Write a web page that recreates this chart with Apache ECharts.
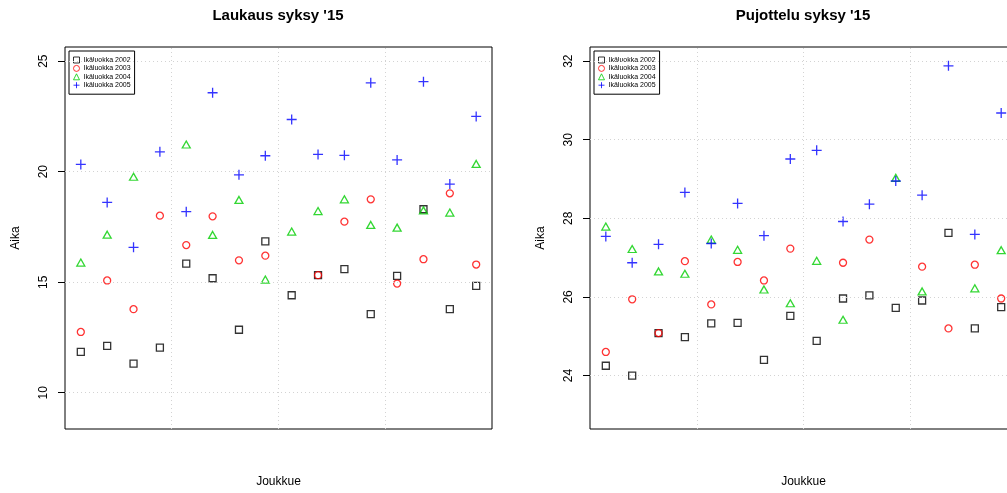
<!DOCTYPE html>
<html>
<head>
<meta charset="utf-8">
<script src="https://cdn.jsdelivr.net/npm/echarts@6/dist/echarts.min.js"></script>
<style>
  html, body { margin: 0; padding: 0; background: #fff; }
  #chart { width: 1007px; height: 493px; }
</style>
</head>
<body>
<div id="chart"></div>
<script>
// joukkueet 1..16 (x-akseli ilman nimiä)
const joukkue = [1, 2, 3, 4, 5, 6, 7, 8, 9, 10, 11, 12, 13, 14, 15, 16];
const ikaluokat = ['Ikäluokka 2002', 'Ikäluokka 2003', 'Ikäluokka 2004', 'Ikäluokka 2005'];

// Laukaus syksy '15
const laukaus2002 = [11.85, 12.12, 11.32, 12.04, 15.84, 15.18, 12.85, 16.85, 14.41, 15.32, 15.59, 13.56, 15.29, 18.30, 13.78, 14.83];
const laukaus2003 = [12.75, 15.08, 13.78, 18.01, 16.68, 17.98, 15.99, 16.20, null, 15.32, 17.74, 18.75, 14.94, 16.04, 19.02, 15.80];
const laukaus2004 = [15.89, 17.15, 19.77, null, 21.23, 17.14, 18.72, 15.12, 17.29, 18.22, 18.75, 17.59, 17.47, 18.25, 18.15, 20.35];
const laukaus2005 = [20.33, 18.61, 16.58, 20.90, 18.19, 23.57, 19.86, 20.72, 22.36, 20.78, 20.74, 24.02, 20.53, 24.07, 19.44, 22.50];
const laukausTicks = [10, 15, 20, 25];
const laukausYlim = [9, 25];

// Pujottelu syksy '15
const pujottelu2002 = [24.25, 24.00, 25.08, 24.98, 25.33, 25.34, 24.40, 25.52, 24.88, 25.96, 26.04, 25.72, 25.91, 27.63, 25.20, 25.74];
const pujottelu2003 = [24.60, 25.94, 25.08, 26.91, 25.81, 26.89, 26.42, 27.23, null, 26.87, 27.46, null, 26.77, 25.20, 26.82, 25.96];
const pujottelu2004 = [27.79, 27.22, 26.65, 26.59, 27.46, 27.20, 26.19, 25.84, 26.92, 25.42, null, 29.03, 26.14, null, 26.22, 27.19];
const pujottelu2005 = [27.54, 26.87, 27.34, 28.66, 27.36, 28.38, 27.56, 29.51, 29.73, 27.92, 28.36, 28.95, 28.59, 31.88, 27.59, 30.68];
const pujotteluTicks = [24, 26, 28, 30, 32];
const pujotteluYlim = [23, 32];

const colors = ['#000000', '#ff0000', '#00cd00', '#0000ff'];
const plus = 'path://M0,5L10,5M5,0L5,10';
const symbols = ['rect', 'circle', 'triangle', plus];
const sizes = [7, 7, [8, 7], 10];
const font = 'Liberation Sans, Arial, sans-serif';

// R-tyylinen 4 % laajennus
function ext(lim) {
  const d = (lim[1] - lim[0]) * 0.04;
  return [lim[0] - d, lim[1] + d];
}
const xlim = ext([1, 16]);
const xGrid = [1, 2, 3].map(k => xlim[0] + k * (xlim[1] - xlim[0]) / 4);

function pairs(vals) {
  const out = [];
  vals.forEach((v, i) => { if (v != null) out.push([joukkue[i], v]); });
  return out;
}

function makeSeries(idx, groups, ticks) {
  return groups.map((vals, s) => {
    const ser = {
      name: ikaluokat[s],
      type: 'scatter',
      xAxisIndex: idx,
      yAxisIndex: idx,
      symbol: symbols[s],
      symbolSize: sizes[s],
      itemStyle: { color: 'rgba(0,0,0,0)', borderColor: colors[s], borderWidth: 1.3 },
      emphasis: { disabled: true },
      data: pairs(vals)
    };
    if (s === 0) {
      ser.markLine = {
        silent: true,
        symbol: ['none', 'none'],
        label: { show: false },
        lineStyle: { color: '#d3d3d3', type: [1, 3], width: 1 },
        data: ticks.map(v => ({ yAxis: v })).concat(xGrid.map(v => ({ xAxis: v })))
      };
    }
    return ser;
  });
}

function legendFor(left) {
  return {
    orient: 'vertical',
    left: left,
    top: 51,
    padding: [5, 4, 5, 4],
    itemGap: 0.4,
    itemWidth: 6,
    itemHeight: 6,
    borderColor: '#000',
    borderWidth: 1,
    selectedMode: false,
    textStyle: { fontFamily: font, fontSize: 7, color: '#000', lineHeight: 8, padding: [0, 0, 0, -1] },
    data: ikaluokat.map((n, s) => ({
      name: n,
      icon: symbols[s],
      itemStyle: { color: 'rgba(0,0,0,0)', borderColor: colors[s], borderWidth: 1 }
    }))
  };
}

function xAxisFor(idx) {
  return {
    gridIndex: idx,
    type: 'value',
    min: xlim[0],
    max: xlim[1],
    axisLine: { show: false },
    axisTick: { show: false },
    axisLabel: { show: false },
    splitLine: { show: false },
    name: 'Joukkue',
    nameLocation: 'middle',
    nameGap: 47,
    nameTextStyle: { fontFamily: font, fontSize: 12, color: '#000' }
  };
}

function yAxisFor(idx, lim, ticks) {
  const e = ext(lim);
  return {
    gridIndex: idx,
    type: 'value',
    min: e[0],
    max: e[1],
    axisLine: { show: false },
    axisTick: { show: true, length: 7, customValues: ticks, lineStyle: { color: '#000' } },
    axisLabel: { customValues: ticks, rotate: 90, margin: 15, fontFamily: font, fontSize: 12, color: '#000' },
    splitLine: { show: false },
    name: 'Aika',
    nameLocation: 'middle',
    nameRotate: 90,
    nameGap: 43,
    nameTextStyle: { fontFamily: font, fontSize: 12, color: '#000' }
  };
}

const chart = echarts.init(document.getElementById('chart'), null, { renderer: 'canvas' });
chart.setOption({
  animation: false,
  backgroundColor: '#fff',
  title: [
    { text: "Laukaus syksy '15", left: 278, top: 8, textAlign: 'center', padding: 0,
      textStyle: { fontFamily: font, fontSize: 15, fontWeight: 'bold', color: '#000' } },
    { text: "Pujottelu syksy '15", left: 803, top: 8, textAlign: 'center', padding: 0,
      textStyle: { fontFamily: font, fontSize: 15, fontWeight: 'bold', color: '#000' } }
  ],
  legend: [legendFor(69), legendFor(594)],
  grid: [
    { left: 65, top: 47, width: 427, height: 382, outerBoundsMode: 'none', show: true, borderColor: '#000', borderWidth: 1, backgroundColor: 'transparent' },
    { left: 590, top: 47, width: 427, height: 382, outerBoundsMode: 'none', show: true, borderColor: '#000', borderWidth: 1, backgroundColor: 'transparent' }
  ],
  xAxis: [xAxisFor(0), xAxisFor(1)],
  yAxis: [yAxisFor(0, laukausYlim, laukausTicks), yAxisFor(1, pujotteluYlim, pujotteluTicks)],
  series: makeSeries(0, [laukaus2002, laukaus2003, laukaus2004, laukaus2005], laukausTicks)
    .concat(makeSeries(1, [pujottelu2002, pujottelu2003, pujottelu2004, pujottelu2005], pujotteluTicks))
});
window.addEventListener('resize', chart.resize);
</script>
</body>
</html>
